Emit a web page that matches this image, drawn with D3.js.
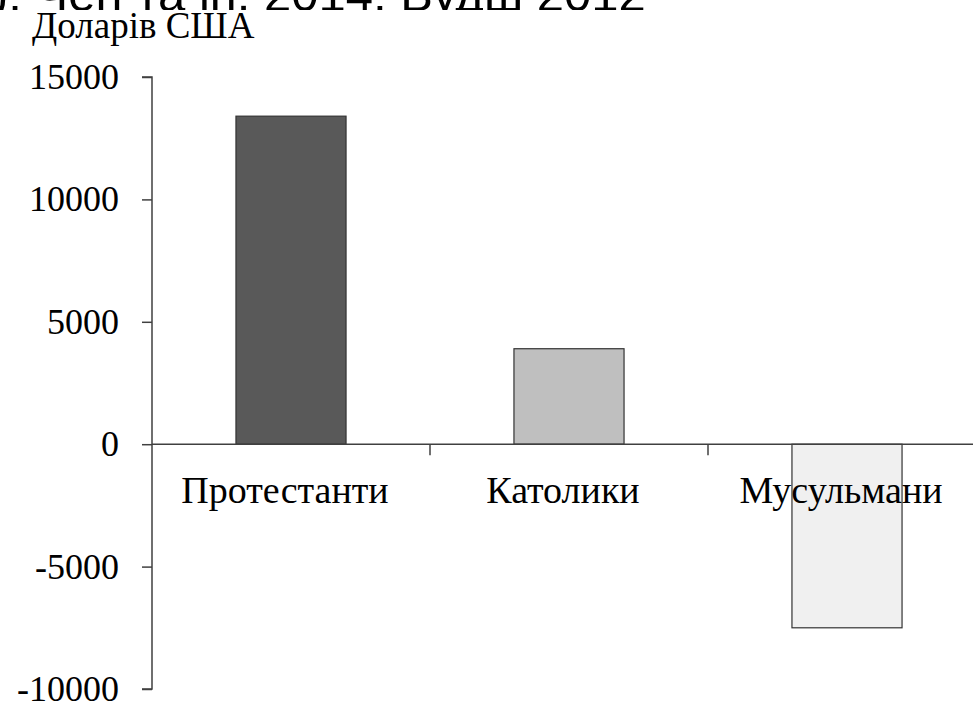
<!DOCTYPE html>
<html><head><meta charset="utf-8">
<script src="https://cdn.jsdelivr.net/npm/d3@7"></script>
<style>html,body{margin:0;padding:0;background:#fff;overflow:hidden}</style>
</head><body>
<script>
const categories = ["Протестанти", "Католики", "Мусульмани"];
const values = [13400, 3900, -7500];
const colors = ["#595959", "#bfbfbf", "#f0f0f0"];
const yTicks = [-10000, -5000, 0, 5000, 10000, 15000];
const yTitle = "Доларів США";
const topText = "): Чен та ін. 2014; Вудш 2012";

const W = 973, H = 703;
const svg = d3.select("body").append("svg").attr("width", W).attr("height", H);

// clipped caption fragment at top
svg.append("clipPath").attr("id","topclip").append("rect").attr("x",0).attr("y",0).attr("width",W).attr("height",10);
svg.append("text").attr("clip-path","url(#topclip)")
  .attr("x", -8).attr("y", 11)
  .attr("font-family","'Liberation Sans', Arial, sans-serif").attr("font-size",49)
  .attr("fill","#000").text(topText);

const x = d3.scaleBand().domain(categories).range([152, 986]).paddingInner(0.604).paddingOuter(0.302);
const y = d3.scaleLinear().domain([-10000, 15000]).range([689, 77]);

const serif = "'Liberation Serif','Times New Roman',serif";
const axisColor = "#404040";

// y title
svg.append("text").attr("x", 32).attr("y", 38)
  .attr("font-family", serif).attr("font-size", 37).attr("fill","#000").text(yTitle);

// bars
svg.selectAll("rect.bar").data(categories).join("rect").attr("class","bar")
  .attr("x", d => x(d))
  .attr("width", x.bandwidth())
  .attr("y", (d,i) => y(Math.max(0, values[i])))
  .attr("height", (d,i) => Math.abs(y(values[i]) - y(0)))
  .attr("fill", (d,i) => colors[i])
  .attr("stroke", "#333").attr("stroke-width", 1.2);

// y axis
const ya = svg.append("g").attr("transform", "translate(152,0)")
  .call(d3.axisLeft(y).tickValues(yTicks).tickSize(10).tickPadding(23).tickFormat(d => String(d)));
ya.select(".domain").attr("stroke", axisColor).attr("stroke-width", 1.5).attr("d", `M-10,${y(15000)}H0V${y(-10000)}H-10`);
ya.selectAll(".tick line").attr("stroke", axisColor).attr("stroke-width", 1.5);
ya.selectAll(".tick text").attr("font-family", serif).attr("font-size", 36).attr("fill", "#000");

// x axis line at zero
svg.append("line").attr("x1", 152).attr("x2", W).attr("y1", y(0)).attr("y2", y(0))
  .attr("stroke", axisColor).attr("stroke-width", 1.5);
const bounds = d3.range(1, categories.length).map(i => x.range()[0] + i * x.step());
svg.selectAll("line.xt").data(bounds).join("line").attr("class","xt")
  .attr("x1", d => d).attr("x2", d => d).attr("y1", y(0)).attr("y2", y(0) + 11)
  .attr("stroke", axisColor).attr("stroke-width", 1.5);

// category labels
svg.selectAll("text.cat").data(categories).join("text").attr("class","cat")
  .attr("x", d => x(d) + x.bandwidth()/2 - 6)
  .attr("y", y(0) + 59)
  .attr("text-anchor","middle")
  .attr("font-family", serif).attr("font-size", 38).attr("fill","#000")
  .text(d => d);
</script>
</body></html>
